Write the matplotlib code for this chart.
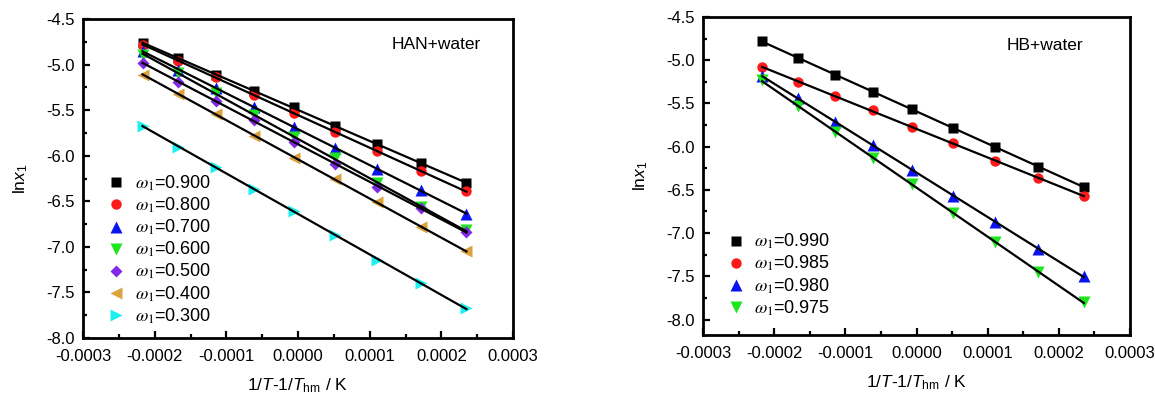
import numpy as np
import matplotlib
matplotlib.use("Agg")
import matplotlib.pyplot as plt
from matplotlib.font_manager import FontProperties
from matplotlib.ticker import MultipleLocator, FormatStrFormatter

plt.rcParams['font.family'] = ['Liberation Sans', 'DejaVu Sans']
plt.rcParams['mathtext.fontset'] = 'custom'
plt.rcParams['mathtext.rm'] = 'Liberation Sans'
plt.rcParams['mathtext.it'] = 'Liberation Sans:italic'

# x = 1/T - 1/Thm (same temperatures in both panels)
x_vals = [-0.000217, -0.000167, -0.000115, -0.0000616, -0.0000063,
          0.0000509, 0.000110, 0.000171, 0.000235]

# HAN + water
han_labels = ['0.900', '0.800', '0.700', '0.600', '0.500', '0.400', '0.300']
han_090 = [-4.76, -4.93, -5.11, -5.29, -5.47, -5.67, -5.87, -6.08, -6.30]
han_080 = [-4.78, -4.96, -5.14, -5.33, -5.53, -5.74, -5.95, -6.17, -6.39]
han_070 = [-4.85, -5.06, -5.26, -5.46, -5.68, -5.91, -6.14, -6.38, -6.64]
han_060 = [-4.89, -5.09, -5.31, -5.55, -5.79, -6.03, -6.30, -6.56, -6.82]
han_050 = [-4.98, -5.19, -5.40, -5.61, -5.85, -6.09, -6.34, -6.57, -6.84]
han_040 = [-5.11, -5.32, -5.54, -5.78, -6.02, -6.25, -6.51, -6.78, -7.05]
han_030 = [-5.67, -5.90, -6.12, -6.37, -6.61, -6.87, -7.14, -7.40, -7.67]
han_series = [han_090, han_080, han_070, han_060, han_050, han_040, han_030]

# HB + water
hb_labels = ['0.990', '0.985', '0.980', '0.975']
hb_0990 = [-4.78, -4.97, -5.17, -5.37, -5.56, -5.78, -6.00, -6.23, -6.47]
hb_0985 = [-5.08, -5.25, -5.41, -5.58, -5.77, -5.96, -6.17, -6.36, -6.57]
hb_0980 = [-5.18, -5.44, -5.71, -5.98, -6.27, -6.57, -6.87, -7.18, -7.50]
hb_0975 = [-5.23, -5.53, -5.83, -6.13, -6.43, -6.77, -7.10, -7.45, -7.80]
hb_series = [hb_0990, hb_0985, hb_0980, hb_0975]

markers = ['s', 'o', '^', 'v', 'D', '<', '>']
colors = ['#000000', '#ff1a1a', '#0a14f0', '#1ee61e', '#8228e6', '#dba23e', '#1ef0f0']
msizes = [6.5, 7.5, 8, 8, 6.5, 8, 8]


def draw_panel(ax, series, labels, ylim, note, note_pos, legend_anchor):
    x = np.array(x_vals)
    handles = []
    for i, (ys, lab) in enumerate(zip(series, labels)):
        k, b = np.polyfit(x, ys, 1)
        ax.plot([x[0], x[-1]], [k * x[0] + b, k * x[-1] + b], color='black', lw=1.6, zorder=3)
        h, = ax.plot(x, ys, linestyle='none', marker=markers[i], color=colors[i],
                     ms=msizes[i], mec='none', zorder=2, label=r'$\omega_1$=' + lab)
        handles.append(h)
    ax.set_xlim(-0.0003, 0.0003)
    ax.set_ylim(*ylim)
    ax.set_xticks([-0.0003, -0.0002, -0.0001, 0.0, 0.0001, 0.0002, 0.0003])
    ax.xaxis.set_major_formatter(FormatStrFormatter('%.4f'))
    ax.xaxis.set_minor_locator(MultipleLocator(0.00005))
    ax.set_yticks([-8.0, -7.5, -7.0, -6.5, -6.0, -5.5, -5.0, -4.5])
    ax.yaxis.set_major_formatter(FormatStrFormatter('%.1f'))
    ax.yaxis.set_minor_locator(MultipleLocator(0.25))
    ax.tick_params(which='both', direction='in', top=False, right=False, labelsize=12, width=1.6)
    ax.tick_params(which='major', length=5)
    ax.tick_params(axis='x', which='major', pad=8)
    ax.tick_params(axis='y', which='major', pad=6)
    ax.tick_params(which='minor', length=3)
    for s in ax.spines.values():
        s.set_linewidth(2)
    ax.set_xlabel(r'1/$T$-1/$T_{\rm hm}$ / K', fontsize=12.5, labelpad=9)
    ax.set_ylabel(r'ln$x_1$', fontsize=12.5, labelpad=12)
    ax.text(note_pos[0], note_pos[1], note, transform=ax.transAxes, ha='right', va='center', fontsize=12.5)
    ax.legend(handles=handles, loc='lower left', bbox_to_anchor=legend_anchor, frameon=False,
              prop=FontProperties(family='Liberation Sans', size=13, math_fontfamily='stix'),
              handlelength=1.0, handletextpad=0.5, labelspacing=0.15, borderaxespad=0)


fig = plt.figure(figsize=(11.55, 3.97), dpi=100)
ax1 = fig.add_axes([0.0719, 0.1486, 0.3723, 0.8034])
ax2 = fig.add_axes([0.6087, 0.156, 0.3697, 0.801])

draw_panel(ax1, han_series, han_labels, (-8.0, -4.5), 'HAN+water', (0.925, 0.92), (0.04, 0.016))
draw_panel(ax2, hb_series, hb_labels, (-8.18, -4.5), 'HB+water', (0.89, 0.91), (0.04, 0.032))

fig.savefig('out.png', dpi=100)
